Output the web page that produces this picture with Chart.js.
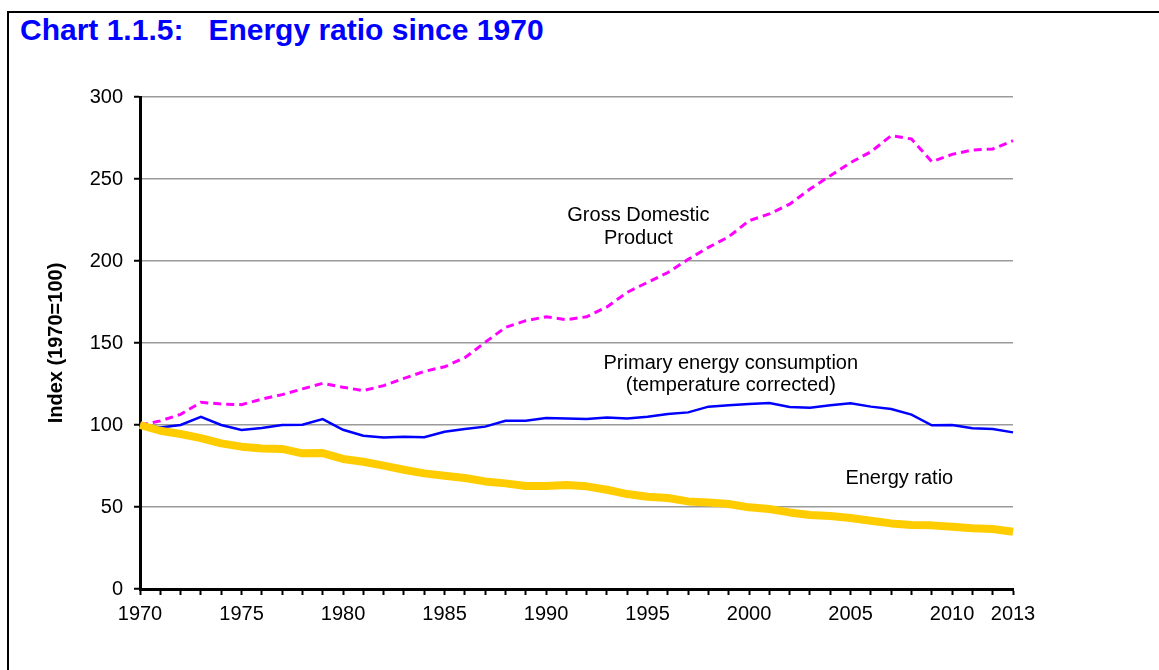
<!DOCTYPE html>
<html><head><meta charset="utf-8">
<script src="https://cdn.jsdelivr.net/npm/chart.js@4.4.1/dist/chart.umd.min.js"></script>
<style>
html,body{margin:0;padding:0;background:#fff;width:1159px;height:670px;overflow:hidden;}
#frame{position:absolute;left:7px;top:11px;width:1200px;height:700px;border-left:2px solid #000;border-top:2px solid #000;}
#title{position:absolute;left:20px;top:15px;font:bold 30px 'Liberation Sans',Arial,sans-serif;color:#0000FF;white-space:pre;line-height:30px;}
#wrap{position:absolute;left:0;top:0;width:1159px;height:670px;}
</style></head>
<body>
<div id="frame"></div>
<div id="title">Chart 1.1.5:   Energy ratio since 1970</div>
<div id="wrap"><canvas id="c" width="1159" height="670"></canvas></div>
<script>
const years = [1970,1971,1972,1973,1974,1975,1976,1977,1978,1979,
               1980,1981,1982,1983,1984,1985,1986,1987,1988,1989,
               1990,1991,1992,1993,1994,1995,1996,1997,1998,1999,
               2000,2001,2002,2003,2004,2005,2006,2007,2008,2009,
               2010,2011,2012,2013];
const gdp = [100,102.5,106.5,113.8,112.8,112.4,115.8,118.5,122,125.4,
             123,121,124,128.4,132.7,135.5,141,150.4,159.5,163.6,
             166,164.2,166,172,180.9,187,193,201,208.3,214.8,
             224.6,228.7,234.7,243.9,252,260,266.6,276.4,274.4,260.5,
             265,267.7,268.3,273.4];
const primaryEnergy = [100,98.5,100,105,100,97,98.2,100,100.2,103.6,
             97.1,93.5,92.4,92.9,92.5,95.9,97.5,99,102.6,102.6,
             104.3,104,103.6,104.6,104,105,106.7,107.7,111.2,112,
             112.8,113.4,111,110.5,112,113.2,111.2,109.8,106.3,99.8,
             100,98,97.5,95.5];
const energyRatio = [100,96.5,94.5,92,88.8,86.8,85.7,85.4,82.7,82.9,
             79.3,77.6,75.2,72.7,70.5,69.1,67.7,65.6,64.4,62.8,
             62.8,63.4,62.6,60.5,57.9,56.3,55.5,53.4,52.8,51.8,
             49.8,48.8,46.7,45.1,44.5,43.3,41.6,40,39,38.8,
             38,37,36.6,34.9];
const yTicks = [0,50,100,150,200,250,300];
const xLabelYears = [1970,1975,1980,1985,1990,1995,2000,2005,2010,2013];
const notes = [
  {text:'Gross Domestic', year:1994.55, value:227.5},
  {text:'Product', year:1994.55, value:213.5},
  {text:'Primary energy consumption', year:1999.1, value:137.4},
  {text:'(temperature corrected)', year:1999.1, value:124},
  {text:'Energy ratio', year:2007.4, value:67.3}
];

const FONT = "'Liberation Sans', Arial, sans-serif";

const notePlugin = {
  id:'notes',
  afterDatasetsDraw(chart){
    const xs = chart.scales.x, ys = chart.scales.y, ctx = chart.ctx;
    const y0 = years[0], y1 = years[years.length-1];
    ctx.save();
    ctx.font = '20px ' + FONT;
    ctx.fillStyle = '#000';
    ctx.textAlign = 'center';
    ctx.textBaseline = 'middle';
    notes.forEach(n => {
      const px = xs.getPixelForDecimal((n.year - y0)/(y1 - y0));
      const py = ys.getPixelForValue(n.value);
      ctx.fillText(n.text, px, py);
    });
    ctx.restore();
  }
};

new Chart(document.getElementById('c'), {
  type:'line',
  data:{
    labels: years,
    datasets:[
      {label:'Energy ratio', data: energyRatio, borderColor:'#FFCC00', borderWidth:8, pointRadius:0, tension:0, borderJoinStyle:'round'},
      {label:'Primary energy consumption (temperature corrected)', data: primaryEnergy, borderColor:'#0000FF', borderWidth:2.5, pointRadius:0, tension:0},
      {label:'Gross Domestic Product', data: gdp, borderColor:'#FF00FF', borderWidth:3, borderDash:[8,5], pointRadius:0, tension:0}
    ]
  },
  options:{
    responsive:false,
    animation:false,
    layout:{padding:{left:0, top:97, right:146, bottom:0}},
    plugins:{legend:{display:false}, tooltip:{enabled:false}},
    scales:{
      x:{
        offset:false,
        grid:{display:true, drawOnChartArea:false, drawTicks:true, tickLength:6, tickColor:'#000', tickWidth:2},
        border:{display:true, color:'#000', width:3},
        ticks:{autoSkip:false, maxRotation:0, minRotation:0, padding:7, color:'#000', font:{family:FONT, size:20},
          callback:(v,i)=> xLabelYears.includes(years[i]) ? String(years[i]) : ''},
        afterFit:s=>{s.height = 81;}
      },
      y:{
        min:0, max:300,
        afterBuildTicks:s=>{s.ticks = yTicks.map(v=>({value:v}));},
        ticks:{padding:11, color:'#000', font:{family:FONT, size:20}},
        grid:{color:'#9a9a9a', lineWidth:1.5, tickColor:'#000', tickLength:6, tickWidth:2},
        border:{display:true, color:'#000', width:3},
        title:{display:true, text:'Index (1970=100)', color:'#000', font:{family:FONT, size:20, weight:'bold'}, padding:{top:44, bottom:0}},
        afterFit:s=>{s.width = 140;}
      }
    }
  },
  plugins:[notePlugin]
});
</script>
</body></html>
